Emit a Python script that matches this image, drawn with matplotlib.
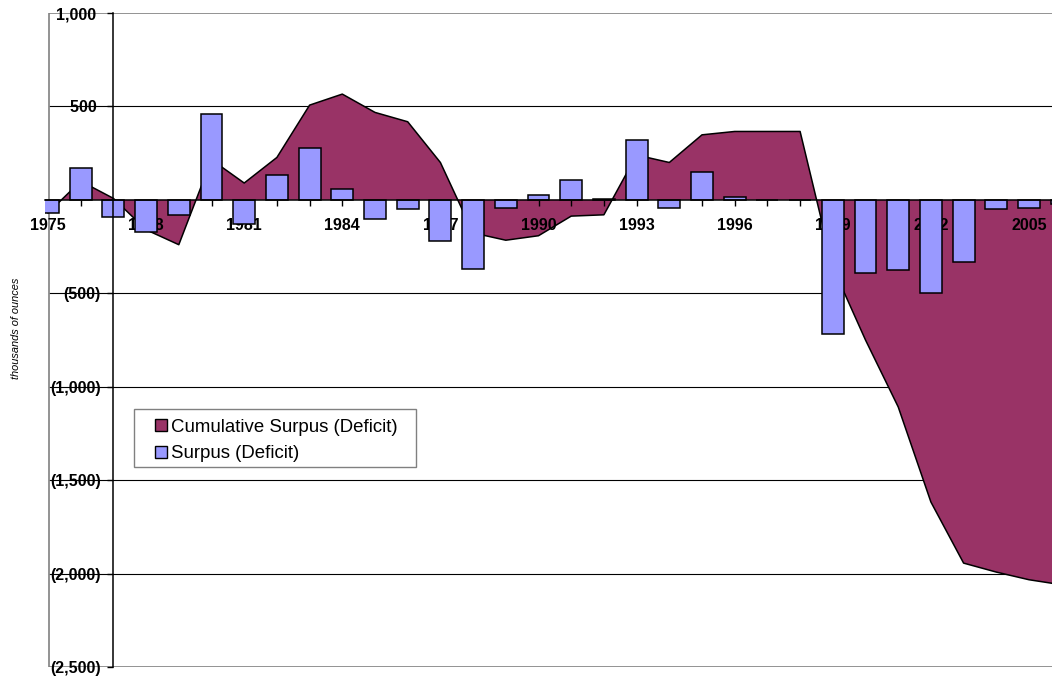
import numpy as np
import matplotlib
matplotlib.use("Agg")
import matplotlib.pyplot as plt
from matplotlib.patches import Rectangle
from matplotlib.ticker import FixedLocator, MultipleLocator, FuncFormatter

plt.rcParams['font.family'] = ['Liberation Sans', 'DejaVu Sans']

# annual balance, thousands of ounces
years = list(range(1975, 2007))
surplus = [-70, 170, -90, -170, -80, 460, -130, 135, 280, 60, -100, -50, -220, -370,
           -45, 25, 105, 5, 320, -45, 150, 15, 0, 0, -720, -390, -375, -500, -330,
           -50, -45, -20]
cumulative = [-70, 100, 8, -160, -240, 215, 90, 227, 507, 566, 468, 418, 200, -177,
              -216, -192, -87, -80, 240, 200, 348, 366, 366, 366, -360, -750, -1108,
              -1617, -1944, -1992, -2033, -2060]
y_ticks = [1000, 500, 0, -500, -1000, -1500, -2000, -2500]
series_names = ["Cumulative Surpus (Deficit)", "Surpus (Deficit)"]

AREA = "#993366"
BAR = "#9999FF"
W, H = 1052, 679

fig = plt.figure(figsize=(W / 100, H / 100), dpi=100)
ax = fig.add_axes([45 / W, 12 / H, 1007 / W, 654 / H])

px_per_year = 32.7
x_left = years[0] - 3 / px_per_year
x_right = years[0] + 1004 / px_per_year
x_border = years[0] + 1 / px_per_year

ax.set_xlim(x_left, x_right)
ax.set_ylim(-2500, 1000)

# gridlines and plot-area frame
ax.hlines([v for v in y_ticks if v not in (0, 1000, -2500)], x_border, x_right,
          colors="black", linewidth=0.8, zorder=0.5)
ax.hlines([1000, -2500], x_border, x_right, colors="#808080", linewidth=1.2, zorder=0.5)
ax.vlines(x_border, -2500, 1000, colors="#808080", linewidth=1.2, zorder=0.5)

# cumulative area
ax.fill_between(years, cumulative, 0, facecolor=AREA, linewidth=0, zorder=1)
ax.plot(years, cumulative, color="black", linewidth=1.1, zorder=1.5)

# yearly bars
ax.bar(years, surplus, width=0.67, color=BAR, edgecolor="black", linewidth=1.1, zorder=2)

for side in ("top", "right"):
    ax.spines[side].set_visible(False)
ax.spines["bottom"].set_position(("data", 0))
ax.spines["left"].set_position(("data", 1977))
ax.spines["bottom"].set_linewidth(1.1)
ax.spines["left"].set_linewidth(1.1)

ax.xaxis.set_major_locator(FixedLocator(years[::3]))
ax.xaxis.set_minor_locator(MultipleLocator(1))
ax.tick_params(axis="x", which="both", direction="out", length=4, width=1, pad=9)
ax.yaxis.set_major_locator(FixedLocator(y_ticks))
ax.tick_params(axis="y", direction="out", length=4, width=1, pad=5)


def fmt_y(v, _):
    v = int(round(v))
    if v == 0:
        return ""
    if v < 0:
        return f"({abs(v):,})"
    return f"{v:,} "


ax.yaxis.set_major_formatter(FuncFormatter(fmt_y))
for lab in ax.get_xticklabels() + ax.get_yticklabels():
    lab.set_fontweight("bold")
    lab.set_fontsize(11.5)

fig.text(16 / W, 1 - 328 / H, "thousands of ounces", rotation=90, style="italic",
         fontsize=7.9, ha="center", va="center")

# legend box, drawn in figure pixels
def fig_rect(x0, y0, x1, y1, **kw):
    return Rectangle((x0 / W, 1 - y1 / H), (x1 - x0) / W, (y1 - y0) / H,
                     transform=fig.transFigure, **kw)

fig.patches.append(fig_rect(134, 409, 416, 467, facecolor="white",
                            edgecolor="#808080", linewidth=1.0, zorder=5))
for i, (name, color) in enumerate(zip(series_names, [AREA, BAR])):
    yc = 425 + 27 * i
    fig.patches.append(fig_rect(155, yc - 6, 167, yc + 6, facecolor=color,
                                edgecolor="black", linewidth=1.0, zorder=6))
    fig.text(171 / W, 1 - yc / H, name, fontsize=13.4, ha="left", va="center_baseline",
             zorder=6)

fig.savefig("out.png", dpi=100)
